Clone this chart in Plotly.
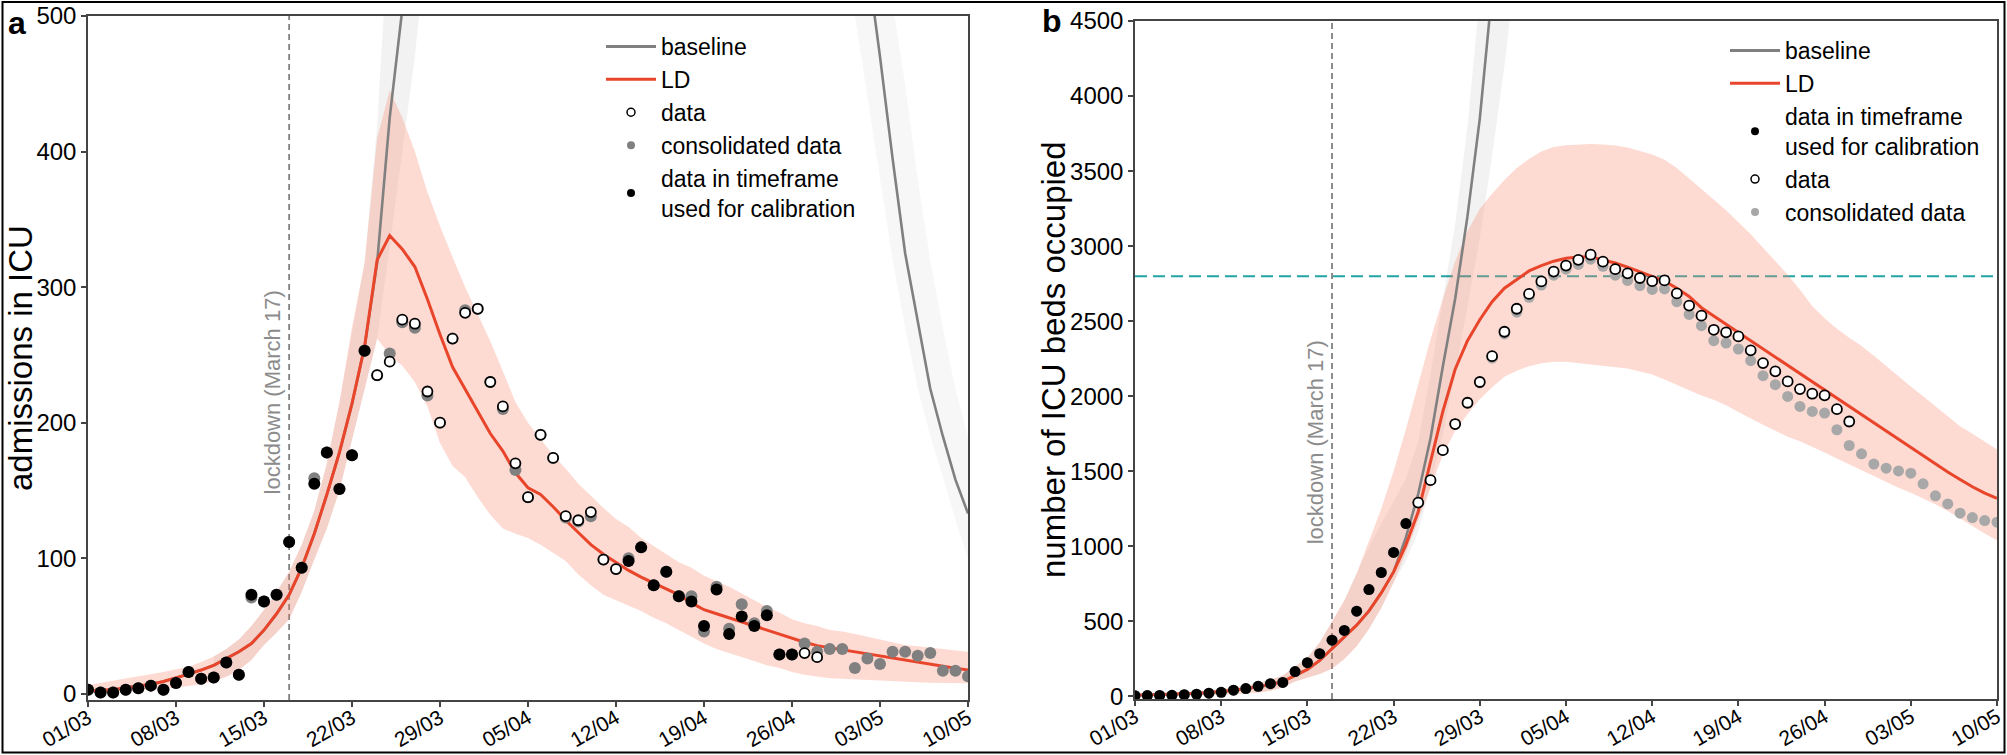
import plotly.graph_objects as go
import pandas as pd

# ---------------- data ----------------
START = "2020-03-01"
N_DAYS = 71
LOCKDOWN = "2020-03-17"
TICK_DTICK_DAYS = 7

# ---- panel a : admissions in ICU ----
a_ld = [2, 2.5, 3, 4.5, 5.5, 7, 9, 11.5, 14.5, 17.5, 21, 26, 31, 37, 47, 59, 73, 93, 118, 147,
        178, 214, 256, 320, 338, 328, 315, 291, 265, 241, 225, 208, 192, 179, 163, 152, 147, 138,
        128, 119, 110, 103, 97, 91, 86, 81.5, 77, 73, 67, 62, 59, 56, 53, 50, 47, 44, 40.5, 38,
        35.5, 34, 32, 30.5, 29.4, 27.5, 26, 24.5, 23, 21.5, 20, 18.8, 17.6]
a_ld_hi = [6.5, 8, 9.5, 11, 12.5, 14, 16, 18, 20, 23.5, 27.5, 33, 40, 50, 62, 75, 90, 110, 135, 170,
           215, 270, 318, 410, 445, 425, 400, 370, 345, 322, 300, 280, 260, 238, 215, 200, 188, 176,
           166, 155, 146, 137, 129, 123, 115, 109, 103, 97, 93, 87, 83, 79, 74, 69, 64, 60, 55, 52,
           50, 47, 46, 44, 42, 40, 38, 36, 35, 34, 33, 32, 31]
a_ld_lo = [0, 0.5, 1, 1.5, 2, 2.5, 3.5, 4.5, 5.5, 7, 9, 12.5, 17.5, 25, 36, 45, 55, 75, 99, 122,
           150, 187, 225, 262, 250, 242, 230, 212, 185, 168, 160, 145, 132, 122, 118, 115, 110, 104,
           98, 88, 80, 73, 69, 65, 61, 56, 52, 47, 42, 37, 33, 30, 27, 24, 21, 19, 16, 14, 12.5,
           11.5, 11, 10.5, 10, 9.5, 9, 8.8, 8.5, 8.2, 8, 7.8, 7.7]
# baseline (values beyond the visible top are off-chart; None = not drawn)
a_base = [2, 2.5, 3, 4.5, 5.5, 7, 9, 11.5, 14.5, 17.5, 21, 26, 31, 37, 47, 59, 73, 93, 118, 147,
          178, 214, 256, 318, 425, 505, 640, 800, None, None, None, None, None, None, None, None,
          None, None, None, None, None, None, None, None, None, None, None, None, None, None, None,
          None, None, None, None, None, None, None, None, None, 700, 620, 540, 470, 395, 325, 275,
          225, 190, 158, 133]
a_band_left_days = [10, 11, 12, 13, 14, 15, 16, 17, 18, 19, 20, 21, 22, 23, 24, 25, 26, 27, 28]
a_band_left_lo = [9, 12.5, 17.5, 25, 36, 45, 55, 75, 99, 122, 150, 187, 225, 262, 330, 400, 470, 560, 680]
a_band_left_hi = [27.5, 33, 40, 50, 62, 75, 90, 110, 135, 170, 215, 265, 318, 420, 560, 700, 860, 1020, 1200]
a_band_right_days = [58, 59, 60, 61, 62, 63, 64, 65, 66, 67, 68, 69, 70]
a_band_right_lo = [600, 570, 530, 500, 440, 380, 320, 270, 225, 190, 160, 128, 100]
a_band_right_hi = [800, 760, 720, 680, 640, 560, 510, 450, 380, 320, 270, 225, 190]

a_calib_days = list(range(0, 23)) + list(range(43, 57))
a_calib = [3, 1, 1, 3, 4, 6, 3, 8, 16, 11, 12, 23, 14, 73, 68, 73, 112, 93, 155, 178, 151, 176, 253,
           98, 108, 80, 90, 72, 68, 50, 77, 44, 57, 50, 58, 29, 29]
a_data_days = list(range(23, 43)) + [57, 58]
a_data = [235, 245, 276, 273, 223, 200, 262, 281, 284, 230, 212, 170, 145, 191, 174, 131, 128, 134,
          99, 92, 30, 27]
a_cons = [3, 1, 1, 3, 4, 6, 3, 8, 16, 11, 12, 23, 14, 71, 68, 73, 112, 93, 159, 178, 151, 176, 253,
          235, 251, 274, 270, 220, 200, 262, 283, 284, 230, 210, 165, 145, 191, 174, 130, 127, 131,
          99, 92, 100, 108, 80, 90, 72, 72, 46, 79, 48, 66, 52, 61, 29, 29, 37, 31, 33, 33, 19, 26,
          22, 31, 31, 28, 30, 17, 17, 13]

# ---- panel b : ICU beds occupied ----
b_ld = [8, 10, 12, 15, 18, 22, 27, 33, 41, 51, 64, 80, 100, 140, 180, 240, 320, 395, 475, 570,
        690, 830, 1010, 1230, 1570, 1900, 2180, 2370, 2510, 2630, 2720, 2780, 2835, 2870, 2900,
        2920, 2928, 2927, 2910, 2888, 2860, 2830, 2800, 2768, 2720, 2665, 2590, 2532, 2480, 2425,
        2370, 2315, 2260, 2205, 2150, 2097, 2043, 1990, 1935, 1880, 1825, 1770, 1713, 1655, 1600,
        1547, 1495, 1445, 1397, 1355, 1320]
b_ld_hi = [15, 17, 20, 24, 28, 34, 40, 49, 60, 73, 90, 112, 140, 200, 260, 360, 500, 640, 820, 1030,
           1250, 1500, 1780, 2080, 2380, 2650, 2900, 3100, 3250, 3350, 3440, 3520, 3580, 3630, 3660,
           3672, 3678, 3680, 3677, 3670, 3657, 3635, 3610, 3575, 3520, 3450, 3380, 3310, 3240, 3160,
           3080, 2990, 2900, 2810, 2710, 2600, 2520, 2450, 2390, 2335, 2270, 2200, 2130, 2065, 2000,
           1935, 1865, 1800, 1750, 1700, 1645]
b_ld_lo = [3, 3, 4, 5, 6, 7, 9, 11, 14, 19, 25, 38, 60, 100, 125, 150, 185, 250, 335, 450, 590,
           760, 960, 1170, 1390, 1610, 1770, 1880, 1980, 2060, 2130, 2170, 2200, 2220, 2230, 2230,
           2222, 2212, 2204, 2196, 2185, 2165, 2145, 2112, 2075, 2040, 2005, 1977, 1940, 1895, 1850,
           1810, 1770, 1730, 1700, 1665, 1625, 1585, 1545, 1505, 1465, 1425, 1390, 1358, 1320, 1280,
           1235, 1185, 1130, 1085, 1040]
b_base = [8, 10, 12, 15, 18, 22, 27, 33, 41, 51, 64, 80, 100, 140, 180, 240, 320, 395, 475, 570,
          690, 830, 1060, 1350, 1720, 2200, 2650, 3200, 3850, 4700, 5600]
b_band_days = [10, 11, 12, 13, 14, 15, 16, 17, 18, 19, 20, 21, 22, 23, 24, 25, 26, 27, 28, 29, 30, 31]
b_band_lo = [25, 38, 60, 100, 125, 150, 185, 250, 335, 450, 590, 760, 900, 1100, 1400, 1750, 2150,
             2600, 3050, 3600, 4200, 4900]
b_band_hi = [90, 112, 140, 200, 260, 360, 500, 640, 820, 1000, 1150, 1300, 1450, 1700, 2150, 2650,
             3150, 3800, 4600, 5500, 6400, 7300]

b_calib_days = list(range(0, 23))
b_calib = [5, 6, 7, 8, 12, 15, 22, 28, 42, 53, 68, 85, 94, 166, 225, 285, 375, 440, 568, 712, 826,
           960, 1152]
b_data_days = list(range(23, 59))
b_data = [1292, 1441, 1641, 1815, 1957, 2095, 2267, 2430, 2583, 2682, 2765, 2831, 2871, 2909, 2943,
          2897, 2847, 2819, 2788, 2767, 2772, 2685, 2604, 2537, 2443, 2426, 2399, 2306, 2221, 2166,
          2099, 2048, 2017, 2006, 1914, 1832]
b_cons = [5, 6, 7, 8, 12, 15, 22, 28, 42, 53, 68, 85, 94, 166, 225, 285, 375, 440, 568, 712, 826,
          960, 1152, 1292, 1441, 1641, 1815, 1957, 2090, 2255, 2415, 2560, 2659, 2741, 2807, 2847,
          2878, 2913, 2866, 2807, 2772, 2737, 2712, 2715, 2630, 2545, 2470, 2370, 2355, 2315, 2237,
          2137, 2077, 1999, 1932, 1899, 1888, 1777, 1672, 1617, 1548, 1521, 1503, 1488, 1417, 1337,
          1283, 1221, 1192, 1172, 1161]
ICU_CAPACITY = 2800

# ---------------- styling ----------------
W, H = 2007, 755
FONT = "Liberation Sans, Arial, sans-serif"
RED = "#E8452B"
PINK = "rgba(248,140,115,0.32)"
GRAYBAND_L = "rgba(0,0,0,0.05)"
GRAYBAND_R = "rgba(0,0,0,0.03)"
GRAYLINE = "#808080"
AXC = "#444444"

dates = pd.date_range(START, periods=N_DAYS, freq="D")
def d(idx):
    return [dates[i] for i in idx]
all_idx = list(range(N_DAYS))

fig = go.Figure()

def band(xs, lo, hi, color, xa, ya):
    fig.add_trace(go.Scatter(x=xs, y=lo, mode="lines", line=dict(width=0, color=color),
                             showlegend=False, hoverinfo="skip", xaxis=xa, yaxis=ya))
    fig.add_trace(go.Scatter(x=xs, y=hi, mode="lines", line=dict(width=0, color=color),
                             fill="tonexty", fillcolor=color, showlegend=False,
                             hoverinfo="skip", xaxis=xa, yaxis=ya))

# panel a
band(d(a_band_left_days), a_band_left_lo, a_band_left_hi, GRAYBAND_L, "x", "y")
band(d(a_band_right_days), a_band_right_lo, a_band_right_hi, GRAYBAND_R, "x", "y")
band(d(all_idx), a_ld_lo, a_ld_hi, PINK, "x", "y")
fig.add_trace(go.Scatter(x=d(all_idx), y=a_base, mode="lines", line=dict(color=GRAYLINE, width=2.6),
                         showlegend=False, xaxis="x", yaxis="y"))
fig.add_trace(go.Scatter(x=d(all_idx), y=a_ld, mode="lines", line=dict(color=RED, width=3),
                         showlegend=False, xaxis="x", yaxis="y"))
fig.add_trace(go.Scatter(x=d(all_idx), y=a_cons, mode="markers",
                         marker=dict(color="#808080", size=12), showlegend=False, xaxis="x", yaxis="y"))
fig.add_trace(go.Scatter(x=d(a_data_days), y=a_data, mode="markers",
                         marker=dict(color="white", size=10, line=dict(color="black", width=1.8)),
                         showlegend=False, xaxis="x", yaxis="y"))
fig.add_trace(go.Scatter(x=d(a_calib_days), y=a_calib, mode="markers",
                         marker=dict(color="black", size=12), showlegend=False, xaxis="x", yaxis="y"))

# panel b
band(d(b_band_days), b_band_lo, b_band_hi, GRAYBAND_L, "x2", "y2")
band(d(all_idx), b_ld_lo, b_ld_hi, PINK, "x2", "y2")
fig.add_trace(go.Scatter(x=d(range(len(b_base))), y=b_base, mode="lines",
                         line=dict(color=GRAYLINE, width=2.6), showlegend=False, xaxis="x2", yaxis="y2"))
fig.add_trace(go.Scatter(x=d(all_idx), y=b_ld, mode="lines", line=dict(color=RED, width=3),
                         showlegend=False, xaxis="x2", yaxis="y2"))
fig.add_trace(go.Scatter(x=d(all_idx), y=b_cons, mode="markers",
                         marker=dict(color="#A8A8A8", size=11), showlegend=False, xaxis="x2", yaxis="y2"))
fig.add_trace(go.Scatter(x=d(b_data_days), y=b_data, mode="markers",
                         marker=dict(color="white", size=10, line=dict(color="black", width=1.8)),
                         showlegend=False, xaxis="x2", yaxis="y2"))
fig.add_trace(go.Scatter(x=d(b_calib_days), y=b_calib, mode="markers",
                         marker=dict(color="black", size=11), showlegend=False, xaxis="x2", yaxis="y2"))

# legend entries (legend-only traces with small legend symbols)
def leg_line(name, color, legend, xa, ya):
    fig.add_trace(go.Scatter(x=[None], y=[None], mode="lines", name=name,
                             line=dict(color=color, width=3), legend=legend, legendgroup=legend + name,
                             xaxis=xa, yaxis=ya))
def leg_marker(name, marker, legend, xa, ya):
    fig.add_trace(go.Scatter(x=[None], y=[None], mode="markers", name=name, marker=marker,
                             legend=legend, legendgroup=legend + name, xaxis=xa, yaxis=ya))

m_open = dict(color="white", size=8, line=dict(color="black", width=1.5))
leg_line("baseline", GRAYLINE, "legend", "x", "y")
leg_line("LD", RED, "legend", "x", "y")
leg_marker("data", m_open, "legend", "x", "y")
leg_marker("consolidated data", dict(color="#808080", size=8), "legend", "x", "y")
leg_marker("data in timeframe<br>used for calibration", dict(color="black", size=8), "legend", "x", "y")

leg_line("baseline", GRAYLINE, "legend2", "x2", "y2")
leg_line("LD", RED, "legend2", "x2", "y2")
leg_marker("data in timeframe<br>used for calibration", dict(color="black", size=8), "legend2", "x2", "y2")
leg_marker("data", m_open, "legend2", "x2", "y2")
leg_marker("consolidated data", dict(color="#A8A8A8", size=8), "legend2", "x2", "y2")

# ---------------- layout ----------------
def px_x(p): return p / W
def px_y(p): return 1 - p / H

xa_common = dict(type="date", tickformat="%d/%m", dtick=TICK_DTICK_DAYS * 86400000, tick0=START,
                 tickangle=-30, ticks="outside", ticklen=5, tickwidth=1.5, tickcolor=AXC,
                 ticklabelstandoff=-9, ticklabeloverflow="allow",
                 showline=True, linecolor=AXC, linewidth=1.5, mirror=True, showgrid=False,
                 zeroline=False, tickfont=dict(size=21, color="black", family=FONT),
                 range=[dates[0], dates[-1]])
ya_common = dict(ticks="outside", ticklen=5, tickwidth=1.5, tickcolor=AXC, showline=True,
                 linecolor=AXC, linewidth=1.5, mirror=True, showgrid=False, zeroline=False,
                 tickfont=dict(size=24, color="black", family=FONT))

legend_common = dict(font=dict(size=23, color="black", family=FONT), bgcolor="rgba(0,0,0,0)",
                     borderwidth=0, tracegroupgap=0, itemwidth=50, xanchor="left", yanchor="top")

fig.update_layout(
    width=W, height=H, margin=dict(l=0, r=0, t=0, b=0, autoexpand=False),
    paper_bgcolor="white", plot_bgcolor="white",
    font=dict(family=FONT, color="black"),
    xaxis=dict(xa_common, domain=[px_x(88), px_x(968)], anchor="y"),
    yaxis=dict(ya_common, domain=[px_y(700), px_y(16)], range=[-4.6, 500], dtick=100, anchor="x"),
    xaxis2=dict(xa_common, domain=[px_x(1135), px_x(1997)], anchor="y2"),
    yaxis2=dict(ya_common, domain=[px_y(699), px_y(21)], range=[-16.7, 4500], dtick=500, anchor="x2"),
    legend=dict(legend_common, x=px_x(601), y=px_y(25)),
    legend2=dict(legend_common, x=px_x(1725), y=px_y(29)),
    showlegend=True,
)

shapes = [
    dict(type="line", xref="x", yref="y domain", x0=LOCKDOWN, x1=LOCKDOWN, y0=0, y1=1,
         line=dict(color="#808080", width=1.8, dash="6px,4px"), layer="below"),
    dict(type="line", xref="x2", yref="y2 domain", x0=LOCKDOWN, x1=LOCKDOWN, y0=0, y1=1,
         line=dict(color="#808080", width=1.8, dash="6px,4px"), layer="below"),
    dict(type="line", xref="x2 domain", yref="y2", x0=0, x1=1, y0=ICU_CAPACITY, y1=ICU_CAPACITY,
         line=dict(color="#21A3A3", width=2, dash="12px,6px"), layer="below"),
    dict(type="rect", xref="paper", yref="paper", x0=px_x(2.5), x1=px_x(2004.5), y0=px_y(752.5),
         y1=px_y(2), line=dict(color="black", width=2), fillcolor="rgba(0,0,0,0)"),
]
fig.update_layout(shapes=shapes)

annotations = [
    dict(text="lockdown (March 17)", x=LOCKDOWN, y=222, xref="x", yref="y", textangle=-90,
         xanchor="right", yanchor="middle", xshift=-2, showarrow=False,
         font=dict(size=22, color="#8c8c8c", family=FONT)),
    dict(text="lockdown (March 17)", x=LOCKDOWN, y=1690, xref="x2", yref="y2", textangle=-90,
         xanchor="right", yanchor="middle", xshift=-2, showarrow=False,
         font=dict(size=22, color="#8c8c8c", family=FONT)),
    dict(text="admissions in ICU", x=px_x(20), y=px_y(358), xref="paper", yref="paper",
         textangle=-90, xanchor="center", yanchor="middle", showarrow=False,
         font=dict(size=33, color="black", family=FONT)),
    dict(text="number of ICU beds occupied", x=px_x(1053), y=px_y(360), xref="paper", yref="paper",
         textangle=-90, xanchor="center", yanchor="middle", showarrow=False,
         font=dict(size=33, color="black", family=FONT)),
    dict(text="<b>a</b>", x=px_x(6), y=px_y(3), xref="paper", yref="paper", xanchor="left",
         yanchor="top", showarrow=False, font=dict(size=32, color="black", family=FONT)),
    dict(text="<b>b</b>", x=px_x(1040), y=px_y(1), xref="paper", yref="paper", xanchor="left",
         yanchor="top", showarrow=False, font=dict(size=32, color="black", family=FONT)),
]
fig.update_layout(annotations=annotations)

fig.write_html("out.html", config={"displayModeBar": False},
               post_script="document.body.style.margin='0px';document.body.style.overflow='hidden';")
